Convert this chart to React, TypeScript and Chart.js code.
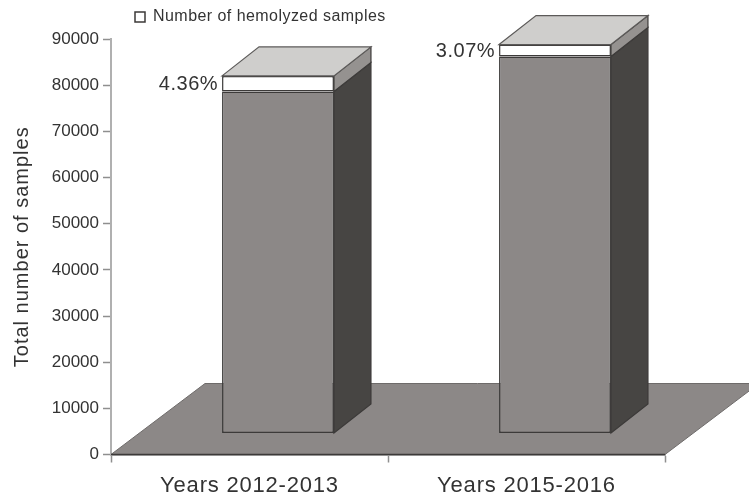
import React, { useEffect, useRef } from "react";
import { Chart, registerables } from "chart.js";

Chart.register(...registerables);

const categories = ["Years 2012-2013", "Years 2015-2016"];
const nonHemolyzed = [74080, 81660];
const hemolyzed = [3380, 2590];
const percentLabels = ["4.36%", "3.07%"];
const yTicks = [0, 10000, 20000, 30000, 40000, 50000, 60000, 70000, 80000, 90000];
const legendLabel = "Number of hemolyzed samples";
const yTitle = "Total number of samples";

const FONT = "'Liberation Sans', Arial, sans-serif";
const TEXT = "#333333";
const FLOOR_DX = 94;
const FLOOR_DY = 71;
const BAR_DX = 37;
const BAR_DY = 29;
const FRONT = "#8c8887";
const DARK_SIDE = "#474543";
const LIGHT_SIDE = "#959290";
const TOP_FACE = "#cfcecc";
const EDGE = "#3c3a39";

function poly(ctx: CanvasRenderingContext2D, pts: number[][], fill: string, stroke: string, lw = 1.2) {
  ctx.beginPath();
  pts.forEach((p, i) => (i ? ctx.lineTo(p[0], p[1]) : ctx.moveTo(p[0], p[1])));
  ctx.closePath();
  ctx.fillStyle = fill;
  ctx.fill();
  ctx.lineWidth = lw;
  ctx.strokeStyle = stroke;
  ctx.stroke();
}

function spaced(target: any, method: string, ctx: any, px: string) {
  const orig = target[method];
  target[method] = function (...args: any[]) {
    ctx.letterSpacing = px;
    const out = orig.apply(this, args);
    ctx.letterSpacing = "0px";
    return out;
  };
}

const depthPlugin = {
  id: "depth",
  afterDatasetsUpdate(chart: any) {
    const sx = (FLOOR_DX - BAR_DX) / 2;
    const sy = (FLOOR_DY - BAR_DY) / 2;
    chart.data.datasets.forEach((_: any, i: number) => {
      chart.getDatasetMeta(i).data.forEach((el: any) => {
        el.x += sx;
        el.y -= sy;
        el.base -= sy;
      });
    });
  },
  beforeDatasetsDraw(chart: any) {
    const { ctx, chartArea: a } = chart;
    ctx.save();
    poly(
      ctx,
      [
        [a.left, a.bottom],
        [a.left + FLOOR_DX, a.bottom - FLOOR_DY],
        [a.right + FLOOR_DX, a.bottom - FLOOR_DY],
        [a.right, a.bottom],
      ],
      FRONT,
      "#6e6b6a",
      1
    );
    ctx.beginPath();
    ctx.moveTo(a.left, a.bottom);
    ctx.lineTo(a.right, a.bottom);
    ctx.lineWidth = 1.5;
    ctx.strokeStyle = EDGE;
    ctx.stroke();
    ctx.restore();
  },
  afterDatasetsDraw(chart: any) {
    const { ctx } = chart;
    const lower = chart.getDatasetMeta(0).data;
    const upper = chart.getDatasetMeta(1).data;
    ctx.save();
    lower.forEach((g: any, i: number) => {
      const w = upper[i];
      const r = g.x + g.width / 2;
      const l = g.x - g.width / 2;
      const side = (yt: number, yb: number, fill: string) =>
        poly(
          ctx,
          [
            [r, yt],
            [r + BAR_DX, yt - BAR_DY],
            [r + BAR_DX, yb - BAR_DY],
            [r, yb],
          ],
          fill,
          EDGE
        );
      side(g.y, g.base, DARK_SIDE);
      side(w.y, g.y, LIGHT_SIDE);
      poly(
        ctx,
        [
          [l, w.y],
          [l + BAR_DX, w.y - BAR_DY],
          [r + BAR_DX, w.y - BAR_DY],
          [r, w.y],
        ],
        TOP_FACE,
        "#5c5a59"
      );
      ctx.font = `20px ${FONT}`;
      ctx.letterSpacing = "0.5px";
      ctx.fillStyle = TEXT;
      ctx.textAlign = "right";
      ctx.textBaseline = "middle";
      ctx.fillText(percentLabels[i], l - 4, (w.y + g.y) / 2 + 1);
      ctx.letterSpacing = "0px";
    });
    ctx.restore();
  },
};

const textPlugin = {
  id: "textPlace",
  afterLayout(chart: any) {
    const lg = chart.legend;
    const h = lg.bottom - lg.top;
    const w = lg.right - lg.left;
    lg.left = 129;
    lg.right = 129 + w;
    lg.top = 19 - h / 2;
    lg.bottom = lg.top + h;
    if (!chart.$spaced) {
      chart.$spaced = true;
      spaced(lg, "draw", chart.ctx, "0.45px");
      spaced(chart.scales.x, "drawLabels", chart.ctx, "0.8px");
      spaced(chart.scales.y, "drawTitle", chart.ctx, "1px");
    }
  },
};

export default function App() {
  const ref = useRef<HTMLCanvasElement>(null);
  useEffect(() => {
    const chart = new Chart(ref.current!, {
      type: "bar",
      data: {
        labels: categories,
        datasets: [
          {
            label: "Other samples",
            data: nonHemolyzed,
            backgroundColor: FRONT,
            borderColor: EDGE,
            borderWidth: 1.5,
            borderSkipped: false,
          },
          {
            label: legendLabel,
            data: hemolyzed,
            backgroundColor: "#ffffff",
            borderColor: EDGE,
            borderWidth: 1.5,
            borderSkipped: false,
          },
        ],
      },
      options: {
        responsive: false,
        animation: false,
        events: [],
        categoryPercentage: 1,
        barPercentage: 0.404,
        layout: { padding: { top: 7, right: 84, left: 0, bottom: 0 } },
        plugins: {
          tooltip: { enabled: false },
          legend: {
            display: true,
            position: "top",
            align: "start",
            labels: {
              filter: (item: any) => item.text === legendLabel,
              boxWidth: 10,
              boxHeight: 10,
              padding: 6,
              color: TEXT,
              font: { family: FONT, size: 16 },
            },
          },
        },
        scales: {
          x: {
            stacked: true,
            border: { color: "#b0b0b0", width: 2 },
            grid: {
              offset: true,
              drawOnChartArea: false,
              tickLength: 8,
              tickColor: "#8f8f8f",
              tickWidth: 1.5,
            },
            ticks: {
              color: TEXT,
              padding: 10,
              maxRotation: 0,
              font: { family: FONT, size: 22 },
            },
            afterFit: (s: any) => {
              s.height = 38.5;
            },
          },
          y: {
            stacked: true,
            min: 0,
            max: 90000,
            border: { color: "#b0b0b0", width: 2 },
            grid: {
              drawOnChartArea: false,
              tickLength: 8,
              tickColor: "#8f8f8f",
              tickWidth: 1.5,
            },
            afterBuildTicks: (s: any) => {
              s.ticks = yTicks.map((value) => ({ value }));
            },
            ticks: {
              color: TEXT,
              padding: 4,
              font: { family: FONT, size: 17 },
              callback: (v: any) => String(v),
            },
            title: {
              display: true,
              text: yTitle,
              color: TEXT,
              padding: { top: 10, bottom: 0 },
              font: { family: FONT, size: 20 },
            },
            afterFit: (s: any) => {
              s.width = 111;
            },
          },
        },
      },
      plugins: [depthPlugin, textPlugin],
    } as any);
    return () => chart.destroy();
  }, []);
  return (
    <div style={{ position: "absolute", left: 0, top: 0, width: 749, height: 493 }}>
      <canvas ref={ref} width={749} height={493} style={{ display: "block" }} />
    </div>
  );
}
